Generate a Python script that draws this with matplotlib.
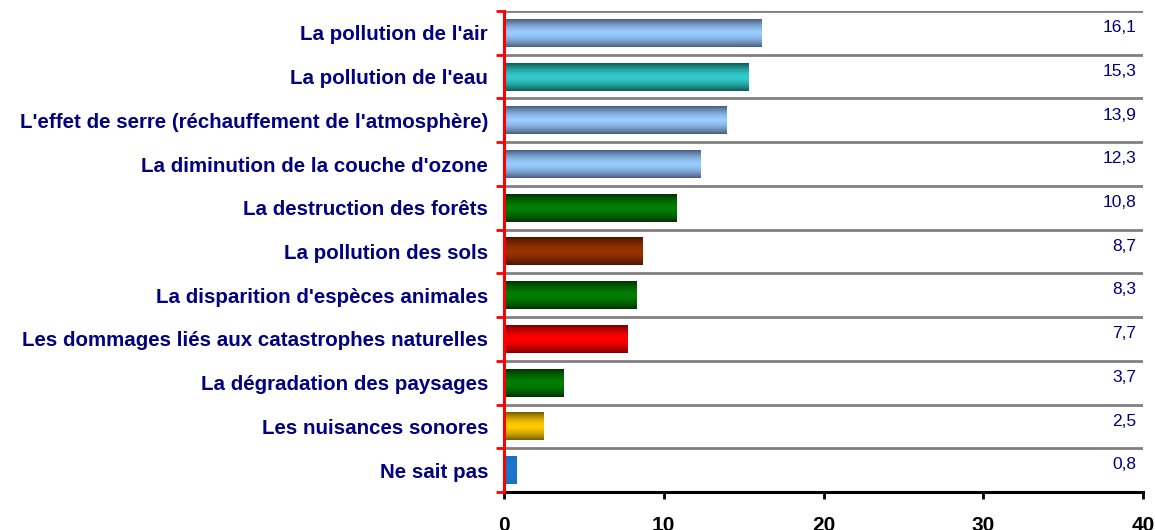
import numpy as np
import matplotlib
matplotlib.use("Agg")
import matplotlib.pyplot as plt
from matplotlib.colors import LinearSegmentedColormap

categories = [
    "La pollution de l'air",
    "La pollution de l'eau",
    "L'effet de serre (réchauffement de l'atmosphère)",
    "La diminution de la couche d'ozone",
    "La destruction des forêts",
    "La pollution des sols",
    "La disparition d'espèces animales",
    "Les dommages liés aux catastrophes naturelles",
    "La dégradation des paysages",
    "Les nuisances sonores",
    "Ne sait pas",
]
values = [16.1, 15.3, 13.9, 12.3, 10.8, 8.7, 8.3, 7.7, 3.7, 2.5, 0.8]
value_labels = ["16,1", "15,3", "13,9", "12,3", "10,8", "8,7", "8,3", "7,7", "3,7", "2,5", "0,8"]
xticks = [0, 10, 20, 30, 40]

# (edge colour, centre colour) for each bar gradient
bar_colors = [
    ("#4a5f7e", "#99ccff"),
    ("#0e5c58", "#33cccc"),
    ("#4a5f7e", "#99ccff"),
    ("#4a5f7e", "#99ccff"),
    ("#003300", "#008000"),
    ("#4a1500", "#993300"),
    ("#003300", "#008000"),
    ("#800000", "#ff0000"),
    ("#003300", "#008000"),
    ("#7a5c00", "#ffcc00"),
    ("#1a6fc0", "#1a78cc"),
]

plt.rcParams['font.family'] = ['Liberation Sans', 'DejaVu Sans']

fig = plt.figure(figsize=(11.55, 5.30), dpi=100)
ax = fig.add_axes([504/1155, 38/530, (1143-504)/1155, (492-11)/530])

n = len(categories)
ypos = np.arange(n)
bar_h = 0.64

bars = ax.barh(ypos, values, height=bar_h, color="none", edgecolor="none", zorder=3)
grad = np.abs(np.linspace(-1, 1, 64))[:, None] ** 1.6
for b, (edge, centre) in zip(bars, bar_colors):
    cmap = LinearSegmentedColormap.from_list("g", [centre, edge])
    x0, y0 = b.get_x(), b.get_y()
    w, h = b.get_width(), b.get_height()
    ax.imshow(grad, cmap=cmap, vmin=0, vmax=1, aspect="auto",
              extent=(x0, x0 + w, y0 + h, y0), zorder=3, interpolation="bilinear")

ax.set_xlim(0, 40)
ax.set_ylim(n - 0.5, -0.5)

for yb in np.arange(-0.5, n - 0.5, 1):
    ax.axhline(yb, color="#808080", lw=2, zorder=1)

ax.set_yticks(ypos)
ax.set_yticklabels(categories, fontsize=14.8, fontweight="bold", color="#000080")
ax.set_yticks(np.arange(-0.5, n, 1), minor=True)
ax.tick_params(axis="y", which="major", length=0, pad=11.5)
ax.tick_params(axis="y", which="minor", length=6, width=2, color="red", direction="out")

ax.set_xticks(xticks)
ax.set_xticklabels([str(t) for t in xticks], fontsize=15, fontweight="bold", color="black")
ax.tick_params(axis="x", length=5, width=2, color="black", pad=12.5)

for s in ["top", "right"]:
    ax.spines[s].set_visible(False)
ax.spines["left"].set_color("red")
ax.spines["left"].set_linewidth(2.2)
ax.spines["bottom"].set_color("black")
ax.spines["bottom"].set_linewidth(2.2)
ax.spines["left"].set_zorder(5)

for y, lab in zip(ypos, value_labels):
    ax.text(39.6, y - 0.12, lab, ha="right", va="center", fontsize=12.5, color="#000080")

fig.savefig("out.png", dpi=100)
